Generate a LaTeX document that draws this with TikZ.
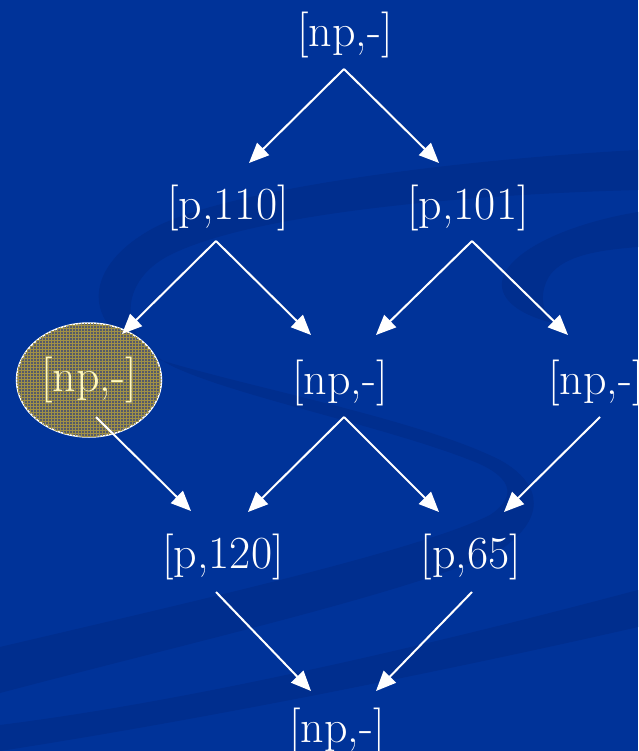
\documentclass[tikz,border=0pt]{standalone}
\usetikzlibrary{arrows.meta,calc,patterns,shapes.geometric}
\definecolor{bg}{RGB}{0,51,153}
\definecolor{swoosh}{RGB}{0,46,142}
\definecolor{pale}{RGB}{255,248,190}
\definecolor{ellbase}{RGB}{85,90,105}
\definecolor{ellgrid}{RGB}{160,145,70}
\begin{document}
\begin{tikzpicture}[x=1pt,y=-1pt,
  lab/.style={text=white,font=\fontsize{46}{46}\selectfont,inner sep=0pt},
  arr/.style={draw=white,line width=2pt,-{Triangle[length=20pt,width=17pt]}}]
\fill[bg] (0,0) rectangle (638,751);
\useasboundingbox (0,0) rectangle (638,751);
% background swooshes
\fill[swoosh] (638,150) .. controls (450,160) and (220,190) .. (150,230)
  .. controls (80,270) and (80,330) .. (160,360)
  .. controls (260,390) and (420,420) .. (500,460)
  .. controls (545,485) and (545,520) .. (500,550)
  .. controls (420,590) and (200,640) .. (0,693)
  -- (0,647)
  .. controls (200,600) and (420,550) .. (490,515)
  .. controls (520,495) and (510,475) .. (470,460)
  .. controls (380,425) and (230,395) .. (170,365)
  .. controls (115,335) and (120,280) .. (170,255)
  .. controls (250,215) and (450,195) .. (638,190) -- cycle;
\fill[swoosh] (638,212) .. controls (560,225) and (505,255) .. (502,282)
  .. controls (500,300) and (520,315) .. (553,323)
  .. controls (540,310) and (540,290) .. (550,275)
  .. controls (565,255) and (600,250) .. (638,247) -- cycle;
\fill[swoosh] (0,725) .. controls (200,700) and (450,640) .. (638,590)
  -- (638,627) .. controls (450,670) and (200,720) .. (0,751) -- cycle;
% nodes
\node[lab] (top) at (345,35) {[np,-]};
\node[lab] (p110) at (228,208) {[p,110]};
\node[lab] (p101) at (468,208) {[p,101]};
\node[lab, text=pale, ellipse, draw=white, line width=1.5pt,
  minimum width=145pt, minimum height=114pt, fill=ellbase,
  postaction={pattern=grid, pattern color=ellgrid}] (ell) at (89,380) {[np,-]};
\node[lab] (mid) at (340,383) {[np,-]};
\node[lab] (rnp) at (596,383) {[np,-]};
\node[lab] (p120) at (223,557) {[p,120]};
\node[lab] (p65) at (471,557) {[p,65]};
\node[lab] (bot) at (337,731) {[np,-]};
% connectors
\draw[arr] ($(top)+(-1,34)$) -- ($(p110)+(21,-45)$);
\draw[arr] ($(top)+(-1,34)$) -- ($(p101)+(-29,-45)$);
\draw[arr] ($(p110)+(-12,33)$) -- ($(ell)+(33,-46)$);
\draw[arr] ($(p110)+(-12,33)$) -- ($(mid)+(-29,-48)$);
\draw[arr] ($(p101)+(4,33)$) -- ($(mid)+(36,-48)$);
\draw[arr] ($(p101)+(4,33)$) -- ($(rnp)+(-28,-48)$);
\draw[arr] ($(ell)+(7,37)$) -- ($(p120)+(-32,-46)$);
\draw[arr] ($(mid)+(4,34)$) -- ($(p120)+(25,-45)$);
\draw[arr] ($(mid)+(4,34)$) -- ($(p65)+(-32,-45)$);
\draw[arr] ($(rnp)+(4,34)$) -- ($(p65)+(33,-45)$);
\draw[arr] ($(p120)+(-7,35)$) -- ($(bot)+(-26,-40)$);
\draw[arr] ($(p65)+(1,35)$) -- ($(bot)+(39,-40)$);
\end{tikzpicture}
\end{document}
